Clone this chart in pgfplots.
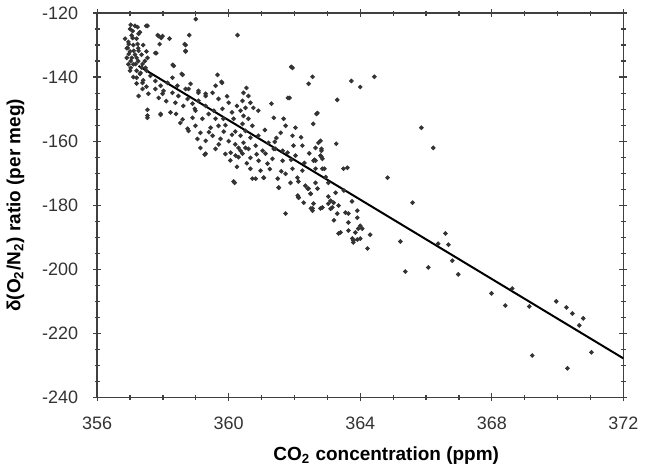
\documentclass[border=0pt]{standalone}
\usepackage{pgfplots}
\pgfplotsset{compat=1.18}
\usepackage{fontspec}
\setmainfont{Liberation Sans}
\definecolor{dotc}{HTML}{333333}
\begin{document}
\begin{tikzpicture}
\begin{axis}[
  scale only axis, width=263.5pt, height=192.5pt,
  xmin=356, xmax=372, ymin=-240, ymax=-120,
  xtick={356,360,364,368,372}, minor x tick num=3,
  ytick={-240,-220,-200,-180,-160,-140,-120}, minor y tick num=3,
  tick align=center, major tick length=4pt, minor tick length=2.5pt,
  every tick/.style={color=black!75, line width=0.6pt},
  axis line style={color=black!75, line width=0.7pt},
  tick label style={font=\fontsize{9}{10}\selectfont, color=black!80},
  /pgf/number format/assume math mode=true,
  /pgf/number format/1000 sep={},
  xticklabel style={yshift=-4pt},
  yticklabel style={xshift=-4pt},
  xlabel={\bfseries CO\textsubscript{2} concentration (ppm)},
  ylabel={\bfseries δ(O\textsubscript{2}/N\textsubscript{2}) ratio (per meg)},
  label style={font=\fontsize{9.5}{11}\selectfont},
  xlabel style={xshift=13pt, yshift=-2pt},
  ylabel style={yshift=2pt},
]
\addplot[only marks, mark=*, mark size=0.95pt, color=dotc] coordinates {
(356.85,-128)(356.9,-131)(356.9,-134)(356.95,-129)(356.95,-136)(357.0,-125)(357.0,-132)(357.0,-138)
(357.05,-127)(357.05,-134)(357.1,-130)(357.1,-140)(357.1,-136)(357.15,-124)(357.15,-133)(357.2,-128)
(357.2,-138)(357.2,-142)(357.25,-131)(357.25,-135)(357.3,-126)(357.3,-139)(357.35,-133)(357.35,-137)
(357.4,-130)(357.4,-141)(357.45,-135)(357.5,-138)(357.5,-132)(357.5,-143)
(357.02,-123.7)(357.23,-124.4)(357.49,-124)(357.08,-125.6)(357.87,-127.2)(357.99,-127.2)(358.2,-128)
(357.9,-129.7)(358.66,-129.7)(358.8,-126.9)(359.0,-121.9)(357.8,-132.5)(358.69,-132)(358.3,-136.2)
(358.57,-139)(359.66,-139.3)(359.78,-141.5)(359.6,-142.7)
(360.27,-126.9)(361.9,-136.8)(362.55,-139.9)(362.43,-142.1)(361.8,-146.5)(362.7,-151.2)
(359.8,-141.8)(358.6,-139.3)(358.33,-136.5)(358.69,-130)(358.69,-131.8)(357.84,-126.9)(357.95,-127.8)
(357.53,-124)(357.77,-132.5)(357.26,-145.9)(357.53,-152)(357.93,-151.5)(358.23,-151)(358.78,-156.8)
(359.3,-163.9)(360.18,-173)(360.72,-171.7)(361.07,-171.4)(361.52,-174.5)(361.73,-182.6)(362.13,-177.6)
(362.5,-181)(362.64,-166.1)
(363.73,-141.2)(364.0,-143.1)(364.43,-139.9)(363.3,-147.1)(362.67,-151.5)(362.57,-154.6)(365.86,-155.8)
(366.22,-162.1)(363.27,-160.8)(362.79,-159.9)(362.82,-162.4)(362.82,-164.9)(362.61,-165.8)(363.49,-168.6)
(363.61,-168.3)(362.91,-168.6)(364.83,-171.4)(365.59,-179.2)(366.59,-188.8)(362.12,-172.6)(362.43,-174.8)
(362.7,-174.8)(362.49,-176.4)(363.03,-179.5)(363.19,-179.2)(363.1,-181.1)(363.3,-182.6)(363.4,-188.5)
(363.64,-187.9)(362.85,-180.7)(362.55,-181)
(363.85,-188.5)(363.94,-187.3)(363.79,-191)(363.91,-190.7)(364.22,-193.5)(365.22,-191.3)(365.37,-200.7)
(366.07,-199.4)(366.37,-192)(366.68,-192.3)(366.8,-197.3)(366.98,-201.6)(367.99,-207.5)(368.41,-211.3)
(368.62,-206)(369.14,-211.6)(369.23,-226.9)(369.96,-210)(370.27,-211.9)(370.45,-213.8)(370.78,-215.3)
(370.66,-217.5)(371.03,-225.9)(370.3,-230.9)
(363.03,-177.3)(363.1,-178.6)(363.15,-180.7)(363.34,-180.1)(363.55,-182.3)(363.64,-182.6)(363.91,-181.7)
(363.91,-183.9)(363.64,-185.4)(364.0,-186.4)(364.06,-187.3)(363.34,-188.8)(363.76,-190.4)(363.79,-191.6)
(364.0,-190.4)(363.03,-173)(363.25,-176.1)(362.85,-168.6)(362.79,-164.5)
(360.54,-143.4)(360.45,-144.9)(360.6,-145.9)(360.42,-147.4)(360.66,-148)(360.51,-149.6)(360.36,-150.5)
(360.75,-149.6)(360.9,-150.5)(360.45,-152.1)(360.6,-153)(360.42,-154.6)(360.72,-155.2)(360.51,-156.8)
(360.36,-158.3)(360.66,-158.9)(360.45,-160.5)(360.3,-162.1)(360.6,-162.4)(360.42,-163.9)(360.9,-158.3)
(360.82,-161.4)
(361.94,-137.1)(361.85,-146.5)(361.3,-148.3)(361.37,-152.7)(361.67,-153)(361.73,-155.2)(362.03,-155.8)
(361.58,-157.4)(361.94,-158.3)(362.24,-161.4)(361.97,-161.4)(362.73,-160.5)(362.82,-163)(361.21,-160.5)
(361.37,-162.4)(361.64,-163)(361.12,-163.9)
(360.15,-172.6)(360.66,-168.6)(360.82,-171.7)(361.06,-171.4)(360.97,-169.2)(361.49,-171.7)(361.52,-174.5)
(361.88,-173)(361.73,-170.2)(362.09,-171.4)(362.12,-177.6)(362.33,-173.9)(362.49,-176.4)(362.58,-179.5)
(362.55,-181.7)(361.94,-168.6)(362.24,-169.2)(362.64,-168.6)(362.85,-165.5)(362.58,-166.1)(362.64,-162.1)
(362.03,-164.5)(361.79,-163.6)(361.64,-166.1)(361.33,-165.5)(361.18,-167)(360.91,-166.1)(360.66,-165.2)
(360.21,-164.5)(360.06,-163.6)(360.36,-163)(361.03,-163)(361.42,-162.4)(360.51,-162.1)
(357.53,-150.2)(357.53,-152.7)(357.93,-151.8)(358.53,-154.3)(358.75,-156.1)(358.9,-152.7)(358.99,-155.2)
(359.14,-157.4)(359.05,-159.3)(359.3,-159.9)(359.51,-158.3)(359.6,-162.4)(359.27,-164.2)(359.75,-159.3)
(359.14,-162.1)(357.38,-143.7)(357.56,-145.2)(357.77,-143.7)(358.02,-144.3)(357.87,-146.5)(358.29,-144.9)
(358.47,-145.9)(358.75,-146.8)(358.38,-148)(358.62,-149)(358.9,-148.3)(359.08,-147.4)(359.3,-149)
(358.99,-150.5)(359.39,-151.5)(359.2,-153)(359.6,-153)(359.69,-155.2)(359.45,-155.8)(358.78,-143.7)
(359.08,-144.9)(359.3,-145.9)(359.51,-144.9)(359.69,-146.8)(359.81,-149.9)(359.84,-153)
(356.96,-129.7)(356.96,-132.8)(357.02,-135)(357.17,-135.9)(357.26,-131.8)(357.32,-138.7)(357.47,-137.1)
(357.2,-140.2)(357.38,-141.8)(357.62,-139.6)(357.77,-141.2)(357.93,-142.7)(358.14,-141.8)(358.29,-140.2)
(358.44,-142.7)(358.69,-143.7)(358.84,-142.1)(359.08,-144.3)(359.3,-145.2)(357.99,-145.2)(357.2,-134)
(357.08,-127.8)(357.11,-131.8)(357.23,-129.7)(357.26,-126.5)(356.93,-130.9)(357.02,-137.1)(357.38,-135.9)
(357.53,-134)
(360.0,-148)(360.1,-151)(359.9,-155)(360.2,-157)(360.0,-160)(360.15,-153)(359.95,-146)(360.25,-149)
(360.1,-158)(360.3,-165)(359.85,-157)(360.2,-161)(360.05,-166)(360.25,-168)(359.7,-161)(359.9,-164)
(358.97,-149.9)(362.64,-173)(362.4,-174.8)(362.1,-177)(362.28,-179.2)(362.79,-181)
(358.1,-147.5)(358.4,-151.5)(358.6,-153.2)(359.4,-157.2)(359.55,-150.5)(361.1,-156.5)(361.45,-159)
(361.9,-165.8)(362.3,-166.8)(362.95,-171.2)(363.5,-175.4)(363.75,-178.8)(363.2,-184.7)(364.3,-189.2)
(361.25,-168.7)(361.6,-169.4)(360.85,-164.1)(360.55,-166.9)(361.4,-160.2)(362.2,-158.8)(362.45,-163.8)
};
\addplot[no marks, black, line width=1pt] coordinates {(357.26,-136.5) (372,-227.8)};
\end{axis}
\end{tikzpicture}
\end{document}
